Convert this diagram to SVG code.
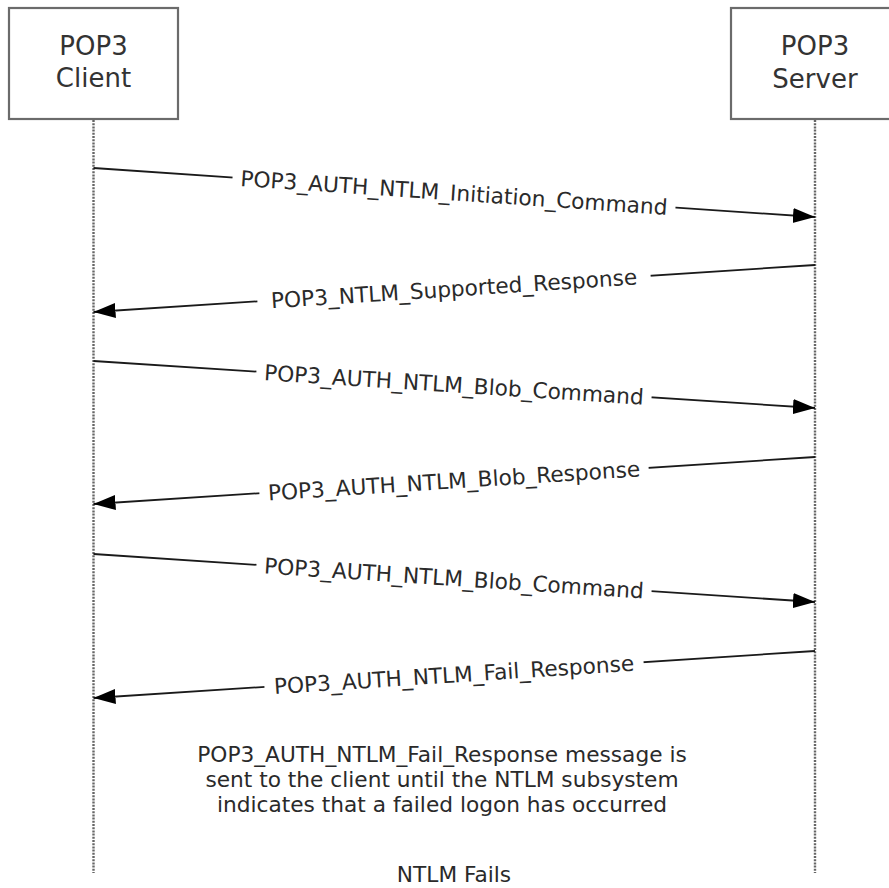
<svg xmlns="http://www.w3.org/2000/svg" width="889" height="888" viewBox="0 0 889 888">
  <style>
    .box { fill: #ffffff; stroke: #6b6b6b; stroke-width: 2.2; }
    .title { font-family: "DejaVu Sans", Verdana, sans-serif; font-size: 26px; fill: #333333; text-anchor: middle; }
    .life { stroke: #666666; stroke-width: 2.4; stroke-dasharray: 2 1.2; fill: none; }
    .msg { stroke: #1a1a1a; stroke-width: 1.8; fill: none; marker-end: url(#arrow); }
    .lbl { font-family: "DejaVu Sans", Verdana, sans-serif; font-size: 21.7px; fill: #2a2a2a; text-anchor: middle; }
    .bg { fill: #ffffff; }
    .note { font-family: "DejaVu Sans", Verdana, sans-serif; font-size: 21.7px; fill: #2a2a2a; text-anchor: middle; }
  </style>
  <defs>
    <marker id="arrow" markerUnits="userSpaceOnUse" markerWidth="23" markerHeight="16" refX="22" refY="7.5" orient="auto">
      <path d="M0,0 L22,7.5 L0,15 z" fill="#000000"/>
    </marker>
  </defs>
  <rect width="889" height="888" fill="#ffffff"/>

  <g id="client">
    <rect class="box" x="9" y="8" width="169" height="111"/>
    <text class="title" x="93.5" y="55">POP3</text>
    <text class="title" x="93.5" y="87">Client</text>
    <line class="life" x1="93.5" y1="120" x2="93.5" y2="873"/>
  </g>

  <g id="server">
    <rect class="box" x="731" y="8" width="168" height="111"/>
    <text class="title" x="815" y="55">POP3</text>
    <text class="title" x="815" y="88">Server</text>
    <line class="life" x1="815" y1="120" x2="815" y2="873"/>
  </g>

  <g id="connectors">
    <g id="m1">
      <line class="msg" x1="93.5" y1="168" x2="815" y2="217"/>
      <g transform="translate(454,192.5) rotate(3.88)">
        <rect class="bg" x="-222" y="-4" width="444" height="8"/>
        <text class="lbl" x="0" y="7.9">POP3_AUTH_NTLM_Initiation_Command</text>
      </g>
    </g>
    <g id="m2">
      <line class="msg" x1="815" y1="265" x2="93.5" y2="312"/>
      <g transform="translate(454,288.5) rotate(-3.72)">
        <rect class="bg" x="-197" y="-4" width="394" height="8"/>
        <text class="lbl" x="0" y="7.9">POP3_NTLM_Supported_Response</text>
      </g>
    </g>
    <g id="m3">
      <line class="msg" x1="93.5" y1="361" x2="815" y2="408"/>
      <g transform="translate(454,384.5) rotate(3.72)">
        <rect class="bg" x="-198" y="-4" width="396" height="8"/>
        <text class="lbl" x="0" y="7.9">POP3_AUTH_NTLM_Blob_Command</text>
      </g>
    </g>
    <g id="m4">
      <line class="msg" x1="815" y1="457" x2="93.5" y2="504"/>
      <g transform="translate(454,480.5) rotate(-3.72)">
        <rect class="bg" x="-195" y="-4" width="390" height="8"/>
        <text class="lbl" x="0" y="7.9">POP3_AUTH_NTLM_Blob_Response</text>
      </g>
    </g>
    <g id="m5">
      <line class="msg" x1="93.5" y1="554" x2="815" y2="602"/>
      <g transform="translate(454,578) rotate(3.80)">
        <rect class="bg" x="-198" y="-4" width="396" height="8"/>
        <text class="lbl" x="0" y="7.9">POP3_AUTH_NTLM_Blob_Command</text>
      </g>
    </g>
    <g id="m6">
      <line class="msg" x1="815" y1="651" x2="93.5" y2="698"/>
      <g transform="translate(454,674.5) rotate(-3.72)">
        <rect class="bg" x="-190" y="-4" width="380" height="8"/>
        <text class="lbl" x="0" y="7.9">POP3_AUTH_NTLM_Fail_Response</text>
      </g>
    </g>
  </g>

  <g id="note">
    <text class="note" x="442" y="762">POP3_AUTH_NTLM_Fail_Response message is</text>
    <text class="note" x="442" y="787">sent to the client until the NTLM subsystem</text>
    <text class="note" x="442" y="812">indicates that a failed logon has occurred</text>
  </g>
  <g id="end">
    <text class="note" x="454" y="882">NTLM Fails</text>
  </g>
</svg>
